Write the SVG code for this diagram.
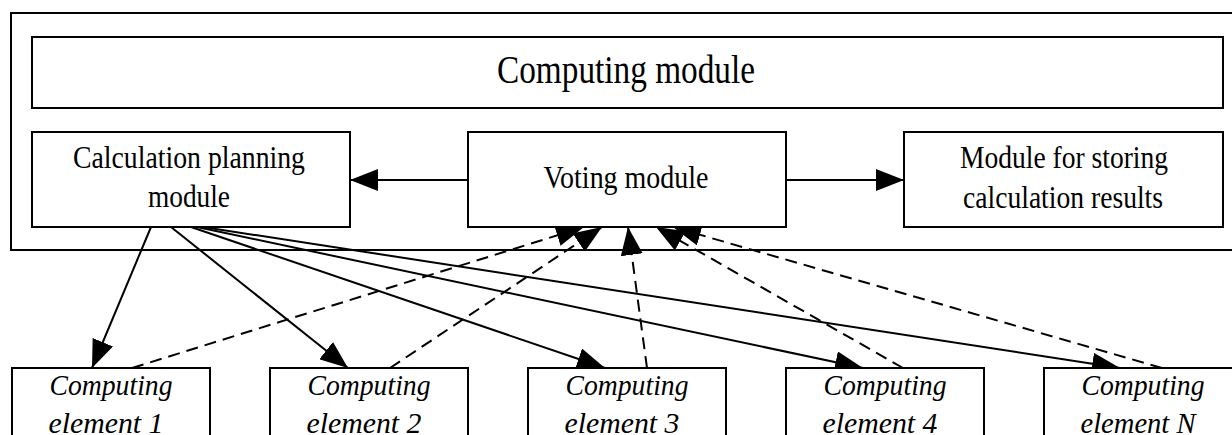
<svg xmlns="http://www.w3.org/2000/svg" width="1232" height="435" viewBox="0 0 1232 435">
  <style>
    .box { fill: #ffffff; stroke: #000000; stroke-width: 2; }
    .frame { fill: none; stroke: #000000; stroke-width: 2; }
    .label { font-family: "Liberation Serif", "Times New Roman", serif; fill: #000000; text-anchor: middle; }
    .elem { font-family: "Liberation Serif", "Times New Roman", serif; font-style: italic; fill: #000000; text-anchor: middle; font-size: 30px; }
    .flow { fill: none; stroke: #000000; stroke-width: 2; marker-end: url(#head); }
    .vote { fill: none; stroke: #000000; stroke-width: 2; stroke-dasharray: 12 7; marker-end: url(#head); }
  </style>
  <defs>
    <marker id="head" markerUnits="userSpaceOnUse" markerWidth="28" markerHeight="22" refX="28" refY="11" orient="auto">
      <path d="M0,0 L28,11 L0,22 z" fill="#000000"/>
    </marker>
  </defs>

  <rect width="1232" height="435" fill="#ffffff"/>

  <!-- enclosing system frame (runs past the right edge) -->
  <g id="system-frame">
    <rect class="frame" x="11" y="13" width="1240" height="237"/>
  </g>

  <!-- connectors -->
  <g id="connectors">
    <line class="flow" x1="468" y1="180" x2="350" y2="180"/>
    <line class="flow" x1="786" y1="180" x2="904" y2="180"/>

    <line class="flow" x1="151" y1="227" x2="92" y2="368"/>
    <line class="flow" x1="171" y1="227" x2="348" y2="368"/>
    <line class="flow" x1="191" y1="227" x2="605" y2="368"/>
    <line class="flow" x1="197" y1="227" x2="863" y2="368"/>
    <line class="flow" x1="203" y1="227" x2="1120" y2="368"/>

    <line class="vote" x1="132" y1="368" x2="584" y2="227"/>
    <line class="vote" x1="390" y1="368" x2="602" y2="227"/>
    <line class="vote" x1="647" y1="368" x2="628" y2="227"/>
    <line class="vote" x1="903" y1="368" x2="656" y2="227"/>
    <line class="vote" x1="1162" y1="368" x2="673" y2="227"/>
  </g>

  <g id="computing-module">
    <rect class="box" x="32" y="37" width="1191" height="71"/>
    <text class="label" x="626" y="83" font-size="39" textLength="258" lengthAdjust="spacingAndGlyphs">Computing module</text>
  </g>

  <g id="planning-module">
    <rect class="box" x="32" y="132" width="318" height="95"/>
    <text class="label" x="189" y="168" font-size="32" textLength="232" lengthAdjust="spacingAndGlyphs">Calculation planning</text>
    <text class="label" x="189" y="207" font-size="32" textLength="82" lengthAdjust="spacingAndGlyphs">module</text>
  </g>

  <g id="voting-module">
    <rect class="box" x="468" y="132" width="318" height="95"/>
    <text class="label" x="626" y="188" font-size="32" textLength="165" lengthAdjust="spacingAndGlyphs">Voting module</text>
  </g>

  <g id="storage-module">
    <rect class="box" x="904" y="132" width="319" height="95"/>
    <text class="label" x="1064" y="168" font-size="32" textLength="208" lengthAdjust="spacingAndGlyphs">Module for storing</text>
    <text class="label" x="1063" y="208" font-size="32" textLength="200" lengthAdjust="spacingAndGlyphs">calculation results</text>
  </g>

  <g id="element-1">
    <rect class="box" x="12" y="368" width="198" height="80"/>
    <text class="elem" x="111" y="395" textLength="123" lengthAdjust="spacingAndGlyphs">Computing</text>
    <text class="elem" x="106" y="433" textLength="115" lengthAdjust="spacingAndGlyphs">element 1</text>
  </g>

  <g id="element-2">
    <rect class="box" x="270" y="368" width="198" height="80"/>
    <text class="elem" x="369" y="395" textLength="123" lengthAdjust="spacingAndGlyphs">Computing</text>
    <text class="elem" x="364" y="433" textLength="115" lengthAdjust="spacingAndGlyphs">element 2</text>
  </g>

  <g id="element-3">
    <rect class="box" x="528" y="368" width="198" height="80"/>
    <text class="elem" x="627" y="395" textLength="123" lengthAdjust="spacingAndGlyphs">Computing</text>
    <text class="elem" x="622" y="433" textLength="115" lengthAdjust="spacingAndGlyphs">element 3</text>
  </g>

  <g id="element-4">
    <rect class="box" x="786" y="368" width="198" height="80"/>
    <text class="elem" x="885" y="395" textLength="123" lengthAdjust="spacingAndGlyphs">Computing</text>
    <text class="elem" x="880" y="433" textLength="115" lengthAdjust="spacingAndGlyphs">element 4</text>
  </g>

  <g id="element-n">
    <rect class="box" x="1044" y="368" width="198" height="80"/>
    <text class="elem" x="1143" y="395" textLength="123" lengthAdjust="spacingAndGlyphs">Computing</text>
    <text class="elem" x="1138" y="433" textLength="115" lengthAdjust="spacingAndGlyphs">element N</text>
  </g>
</svg>
